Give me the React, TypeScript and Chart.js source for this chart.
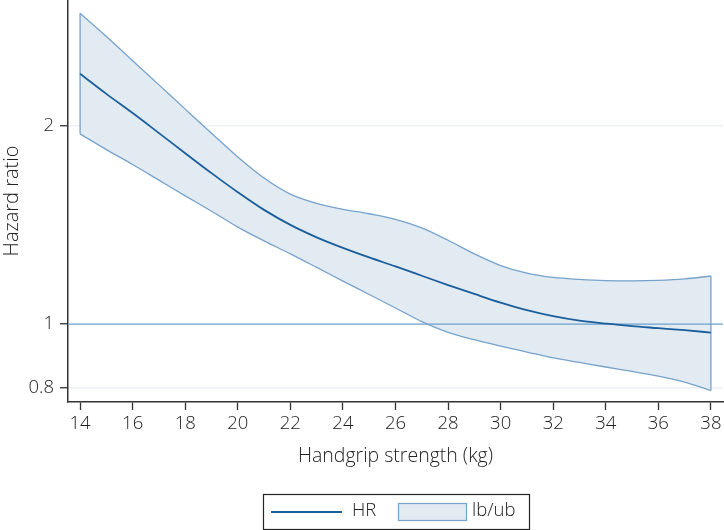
import React, { useEffect, useRef } from "react";
import { Chart, registerables } from "chart.js";

Chart.register(...registerables);

const strength = [14, 15, 16, 17, 18, 19, 20, 21, 22, 23, 24, 25, 26, 27, 28, 29, 30, 31, 32, 33, 34, 35, 36, 37, 38];
const hr = [2.397, 2.234, 2.089, 1.948, 1.816, 1.694, 1.585, 1.49, 1.414, 1.354, 1.305, 1.262, 1.223, 1.184, 1.146, 1.111, 1.078, 1.05, 1.028, 1.012, 1.002, 0.993, 0.986, 0.979, 0.971];
const upper = [2.959, 2.729, 2.508, 2.305, 2.118, 1.947, 1.792, 1.665, 1.574, 1.524, 1.493, 1.47, 1.442, 1.399, 1.34, 1.278, 1.227, 1.195, 1.177, 1.169, 1.164, 1.163, 1.165, 1.171, 1.183];
const lower = [1.943, 1.839, 1.746, 1.653, 1.565, 1.483, 1.403, 1.337, 1.278, 1.219, 1.162, 1.109, 1.058, 1.009, 0.972, 0.947, 0.926, 0.907, 0.889, 0.875, 0.861, 0.848, 0.834, 0.817, 0.793];
const xTicks = [14, 16, 18, 20, 22, 24, 26, 28, 30, 32, 34, 36, 38];
const yTicks = [0.8, 1, 2];
const refValue = 1;
const xMin = 13.54;
const xMax = 38.46;
const yMin = 0.762;
const yMax = 3.1;

const FONT = "'Open Sans', 'DejaVu Sans', sans-serif";
const BAND_FILL = "rgb(226,234,242)";
const BAND_LINE = "rgb(118,163,204)";
const HR_LINE = "rgb(26,94,155)";
const REF_LINE = "rgb(110,160,205)";
const AXIS = "#333333";
const TEXT = "#222222";

const legendPlugin = {
  id: "boxLegend",
  afterDraw(chart: any) {
    const ctx = chart.ctx;
    const ds = chart.data.datasets;
    ctx.save();
    ctx.strokeStyle = "#222";
    ctx.lineWidth = 1.2;
    ctx.strokeRect(263.5, 494.5, 266, 35);
    ctx.strokeStyle = HR_LINE;
    ctx.lineWidth = 2;
    ctx.beginPath();
    ctx.moveTo(271, 512);
    ctx.lineTo(342, 512);
    ctx.stroke();
    ctx.fillStyle = BAND_FILL;
    ctx.fillRect(398, 503, 69, 18);
    ctx.strokeStyle = BAND_LINE;
    ctx.lineWidth = 1.2;
    ctx.strokeRect(398.5, 503.5, 68, 17);
    ctx.fillStyle = TEXT;
    ctx.font = `300 18.5px ${FONT}`;
    ctx.textBaseline = "middle";
    ctx.textAlign = "left";
    ctx.fillText(ds[3].label, 352, 511);
    ctx.fillText(ds[0].label, 472, 511);
    ctx.restore();
  },
};

export default function App() {
  const ref = useRef<HTMLCanvasElement>(null);
  useEffect(() => {
    const pts = (ys: number[]) => strength.map((x, i) => ({ x, y: ys[i] }));
    const n = strength.length - 1;
    const chart = new Chart(ref.current!, {
      type: "line",
      data: {
        datasets: [
          {
            label: "lb/ub",
            data: pts(upper),
            borderColor: BAND_LINE,
            borderWidth: 1.3,
            backgroundColor: BAND_FILL,
            fill: "+1",
            pointRadius: 0,
            cubicInterpolationMode: "monotone",
            order: 4,
          },
          {
            label: "lower",
            data: pts(lower),
            borderColor: BAND_LINE,
            borderWidth: 1.3,
            fill: false,
            pointRadius: 0,
            cubicInterpolationMode: "monotone",
            order: 3,
          },
          {
            label: "edges",
            data: [
              { x: strength[0], y: lower[0] },
              { x: strength[0], y: upper[0] },
              { x: null as any, y: null as any },
              { x: strength[n], y: lower[n] },
              { x: strength[n], y: upper[n] },
            ],
            borderColor: BAND_LINE,
            borderWidth: 1.3,
            fill: false,
            pointRadius: 0,
            spanGaps: false,
            order: 3,
          },
          {
            label: "HR",
            data: pts(hr),
            borderColor: HR_LINE,
            borderWidth: 1.8,
            fill: false,
            pointRadius: 0,
            cubicInterpolationMode: "monotone",
            order: 1,
          },
          {
            label: "ref",
            data: [
              { x: xMin, y: refValue },
              { x: xMax, y: refValue },
            ],
            borderColor: REF_LINE,
            borderWidth: 1.3,
            fill: false,
            pointRadius: 0,
            order: 2,
          },
        ],
      },
      options: {
        animation: false,
        responsive: false,
        maintainAspectRatio: false,
        layout: { padding: { top: 0, right: 1, bottom: 58, left: 0 } },
        plugins: {
          legend: { display: false },
          tooltip: { enabled: false },
        },
        scales: {
          x: {
            type: "linear",
            min: xMin,
            max: xMax,
            afterBuildTicks: (s: any) => {
              s.ticks = xTicks.map((v) => ({ value: v }));
            },
            afterFit: (s: any) => {
              s.height = 70;
              s.paddingLeft = 0;
              s.paddingRight = 0;
            },
            grid: {
              drawOnChartArea: false,
              drawTicks: true,
              tickLength: 8,
              tickColor: AXIS,
              tickWidth: 1.3,
            },
            border: { color: AXIS, width: 1.5 },
            ticks: {
              color: TEXT,
              font: { family: FONT, size: 18.5, weight: "300" },
              padding: 3,
              maxRotation: 0,
              autoSkip: false,
            },
            title: {
              display: true,
              text: "Handgrip strength (kg)",
              color: TEXT,
              font: { family: FONT, size: 19.5, weight: "300" },
              padding: { top: 0, bottom: 4 },
            },
          },
          y: {
            type: "logarithmic",
            min: yMin,
            max: yMax,
            afterBuildTicks: (s: any) => {
              s.ticks = yTicks.map((v) => ({ value: v }));
            },
            afterFit: (s: any) => {
              s.width = 68;
              s.paddingTop = 0;
              s.paddingBottom = 0;
            },
            grid: {
              color: (c: any) => (c.tick && c.tick.value === refValue ? "rgba(0,0,0,0)" : "rgb(236,240,245)"),
              lineWidth: 1.5,
              drawTicks: true,
              tickLength: 8,
              tickColor: AXIS,
              tickWidth: 1.3,
            },
            border: { color: AXIS, width: 1.5 },
            ticks: {
              color: TEXT,
              font: { family: FONT, size: 18.5, weight: "300" },
              padding: 6,
              autoSkip: false,
              callback: (v: any) => String(v),
            },
            title: {
              display: true,
              text: "Hazard ratio",
              color: TEXT,
              font: { family: FONT, size: 20, weight: "300" },
              padding: { top: 0, bottom: 0 },
            },
          },
        },
      },
      plugins: [legendPlugin],
    } as any);
    return () => chart.destroy();
  }, []);
  return (
    <div style={{ position: "fixed", left: 0, top: 0, width: 724, height: 530, background: "#fff" }}>
      <canvas ref={ref} width={724} height={530} style={{ width: 724, height: 530 }} />
    </div>
  );
}
